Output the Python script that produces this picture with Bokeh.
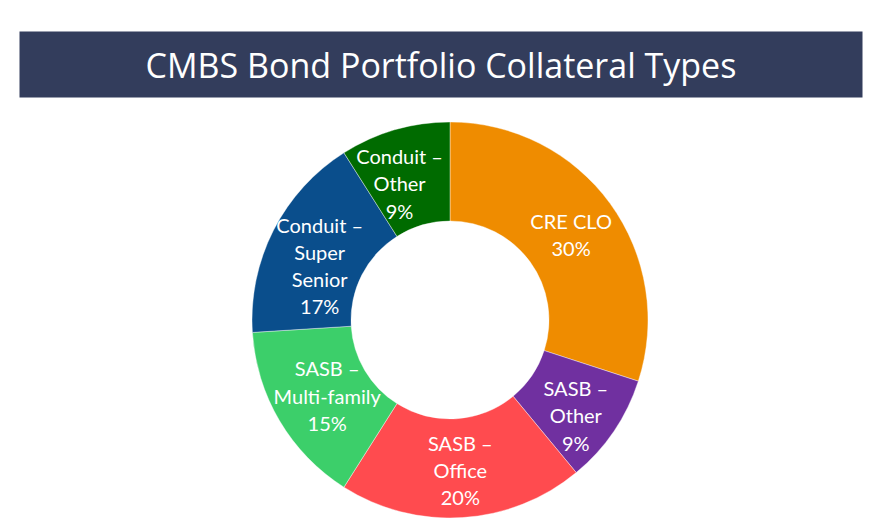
import numpy as np
from bokeh.plotting import figure
from bokeh.models import Range1d, ColumnDataSource
from bokeh.core.properties import value
from bokeh.embed import file_html
from bokeh.resources import INLINE

# ---- data ----
title = "CMBS Bond Portfolio Collateral Types"
categories = ["CRE CLO", "SASB \u2013\nOther", "SASB \u2013\nOffice",
              "SASB \u2013\nMulti-family", "Conduit \u2013\nSuper\nSenior",
              "Conduit \u2013\nOther"]
shares = [30, 9, 20, 15, 17, 9]
colors = ["#EF8C00", "#7030A0", "#FF4B4F", "#3CCF6A", "#0A4E8C", "#006B00"]

W, H = 891, 525
# data units = screen pixels (x right, y up from the bottom of a 525px page)
p = figure(width=W, height=H, output_backend="svg", toolbar_location=None,
           x_range=Range1d(0, W), y_range=Range1d(525 - H, 525),
           min_border=0)
p.axis.visible = False
p.grid.visible = False
p.outline_line_color = None
p.background_fill_color = "white"
p.border_fill_color = "white"

# title bar
p.quad(left=[19], right=[862], bottom=[525 - 97], top=[525 - 31],
       fill_color="#333D5C", line_color=None)
p.text(x=[440.5], y=[525 - 64], text=[title], text_color="white",
       text_font=value("Open Sans"), text_font_size="34px",
       text_align="center", text_baseline="middle")

# donut
cx, cy = 449.5, 525 - 319.5
r_in, r_out = 99, 198
vals = np.array(shares, dtype=float)
frac = vals / vals.sum()
cum_end = np.cumsum(frac)
cum_start = cum_end - frac
start = np.pi / 2 - 2 * np.pi * cum_end
end = np.pi / 2 - 2 * np.pi * cum_start
mid = (start + end) / 2
r_lab = (r_in + r_out) / 2
# small label nudges (pixels) to mimic the reference label placement
nudge_x = np.array([1, 3, 1, 5, 2, -9])
nudge_y = np.array([-2, -12, -2, 0, -13, -6])
src = ColumnDataSource(dict(
    start=start, end=end, color=colors,
    lx=cx + r_lab * np.cos(mid) + nudge_x,
    ly=cy + r_lab * np.sin(mid) + nudge_y,
    label=[f"{c}\n{s}%" for c, s in zip(categories, shares)],
))
p.annular_wedge(x=cx, y=cy, inner_radius=r_in, outer_radius=r_out,
                start_angle="start", end_angle="end", fill_color="color",
                line_color="white", line_width=0.4, source=src)
p.text(x="lx", y="ly", text="label", source=src, text_color="white",
       text_font=value("Lato"), text_font_size="20px", text_line_height=1.13,
       text_align="center", text_baseline="middle")

open("out.html", "w").write(file_html(p, INLINE))
